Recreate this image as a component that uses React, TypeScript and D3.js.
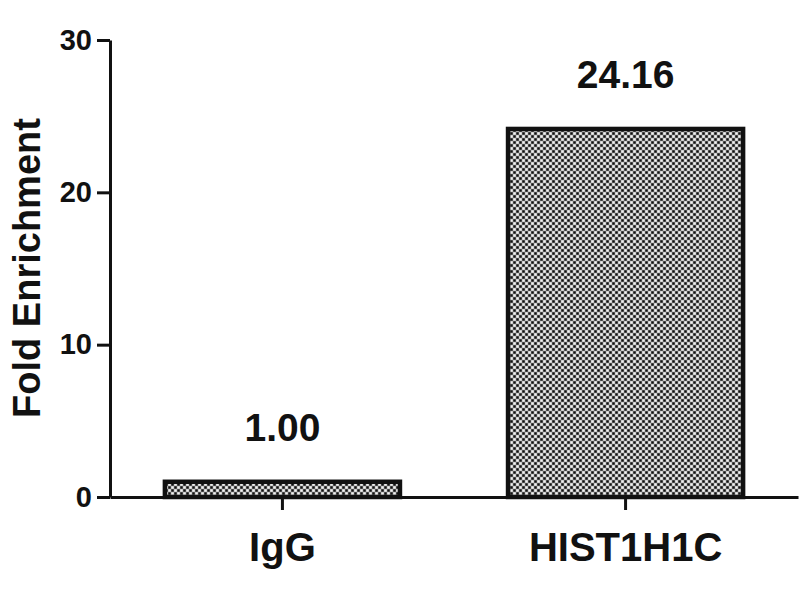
import React from 'react';
import * as d3 from 'd3';

const categories = ['IgG', 'HIST1H1C'];
const values = [1.0, 24.16];
const valueLabels = ['1.00', '24.16'];
const yTicks = [0, 10, 20, 30];

const FONT = '"Liberation Sans", Arial, Helvetica, sans-serif';

const App = () => {
  const Width = 800;
  const Height = 600;
  // plot frame
  const left = 110;
  const right = 798;
  const top = 40;
  const bottom = 497;

  const xScale = d3.scaleBand<string>()
    .domain(categories)
    .range([left, right])
    .paddingInner(0.315)
    .paddingOuter(0.16);

  const yScale = d3.scaleLinear().domain([0, 30]).range([bottom, top]);

  const yAxis = d3.axisLeft(yScale).tickValues(yTicks).tickSize(13).tickSizeOuter(0).tickPadding(5);
  const xAxis = d3.axisBottom(xScale).tickSize(13).tickSizeOuter(0).tickPadding(23);

  const styleAxis = (node: SVGGElement | null, axis: any, fontSize: number) => {
    if (!node) return;
    const g = d3.select(node);
    g.call(axis);
    g.selectAll('path, line').attr('stroke', '#111').attr('stroke-width', 3);
    g.selectAll('text')
      .attr('fill', '#111')
      .style('font-family', FONT)
      .style('font-weight', 'bold')
      .style('font-size', `${fontSize}px`);
  };

  const bars = categories.map((c, i) => {
    const x = xScale(c) as number;
    const y = yScale(values[i]);
    return (
      <g key={c}>
        <rect x={x} y={y} width={xScale.bandwidth()} height={bottom - y}
          fill="url(#checker)" stroke="#111" strokeWidth={4.5} />
        <text x={x + xScale.bandwidth() / 2} y={y - 41} textAnchor="middle"
          style={{ fontFamily: FONT, fontWeight: 'bold', fontSize: '39px' }} fill="#111">
          {valueLabels[i]}
        </text>
      </g>
    );
  });

  return (
    <svg width={Width} height={Height} style={{ position: 'absolute', left: 0, top: 0, background: '#fff' }}>
      <defs>
        <pattern id="checker" width={6} height={6} patternUnits="userSpaceOnUse">
          <rect width={6} height={6} fill="#9a9a9a" />
          <rect x={0.3} y={0.3} width={2.4} height={2.4} fill="#111" />
          <rect x={3.3} y={3.3} width={2.4} height={2.4} fill="#111" />
          <rect x={3.3} y={0.3} width={2.4} height={2.4} fill="#f2f2f2" />
          <rect x={0.3} y={3.3} width={2.4} height={2.4} fill="#f2f2f2" />
        </pattern>
      </defs>
      <g>{bars}</g>
      <g transform={`translate(0, ${bottom})`} ref={(node) => styleAxis(node, xAxis, 40)} />
      <g transform={`translate(${left}, 0)`} ref={(node) => styleAxis(node, yAxis, 29)} />
      <text transform={`translate(40, 268) rotate(-90)`} textAnchor="middle"
        style={{ fontFamily: FONT, fontWeight: 'bold', fontSize: '38px' }} fill="#111">
        Fold Enrichment
      </text>
    </svg>
  );
};

export default App;
